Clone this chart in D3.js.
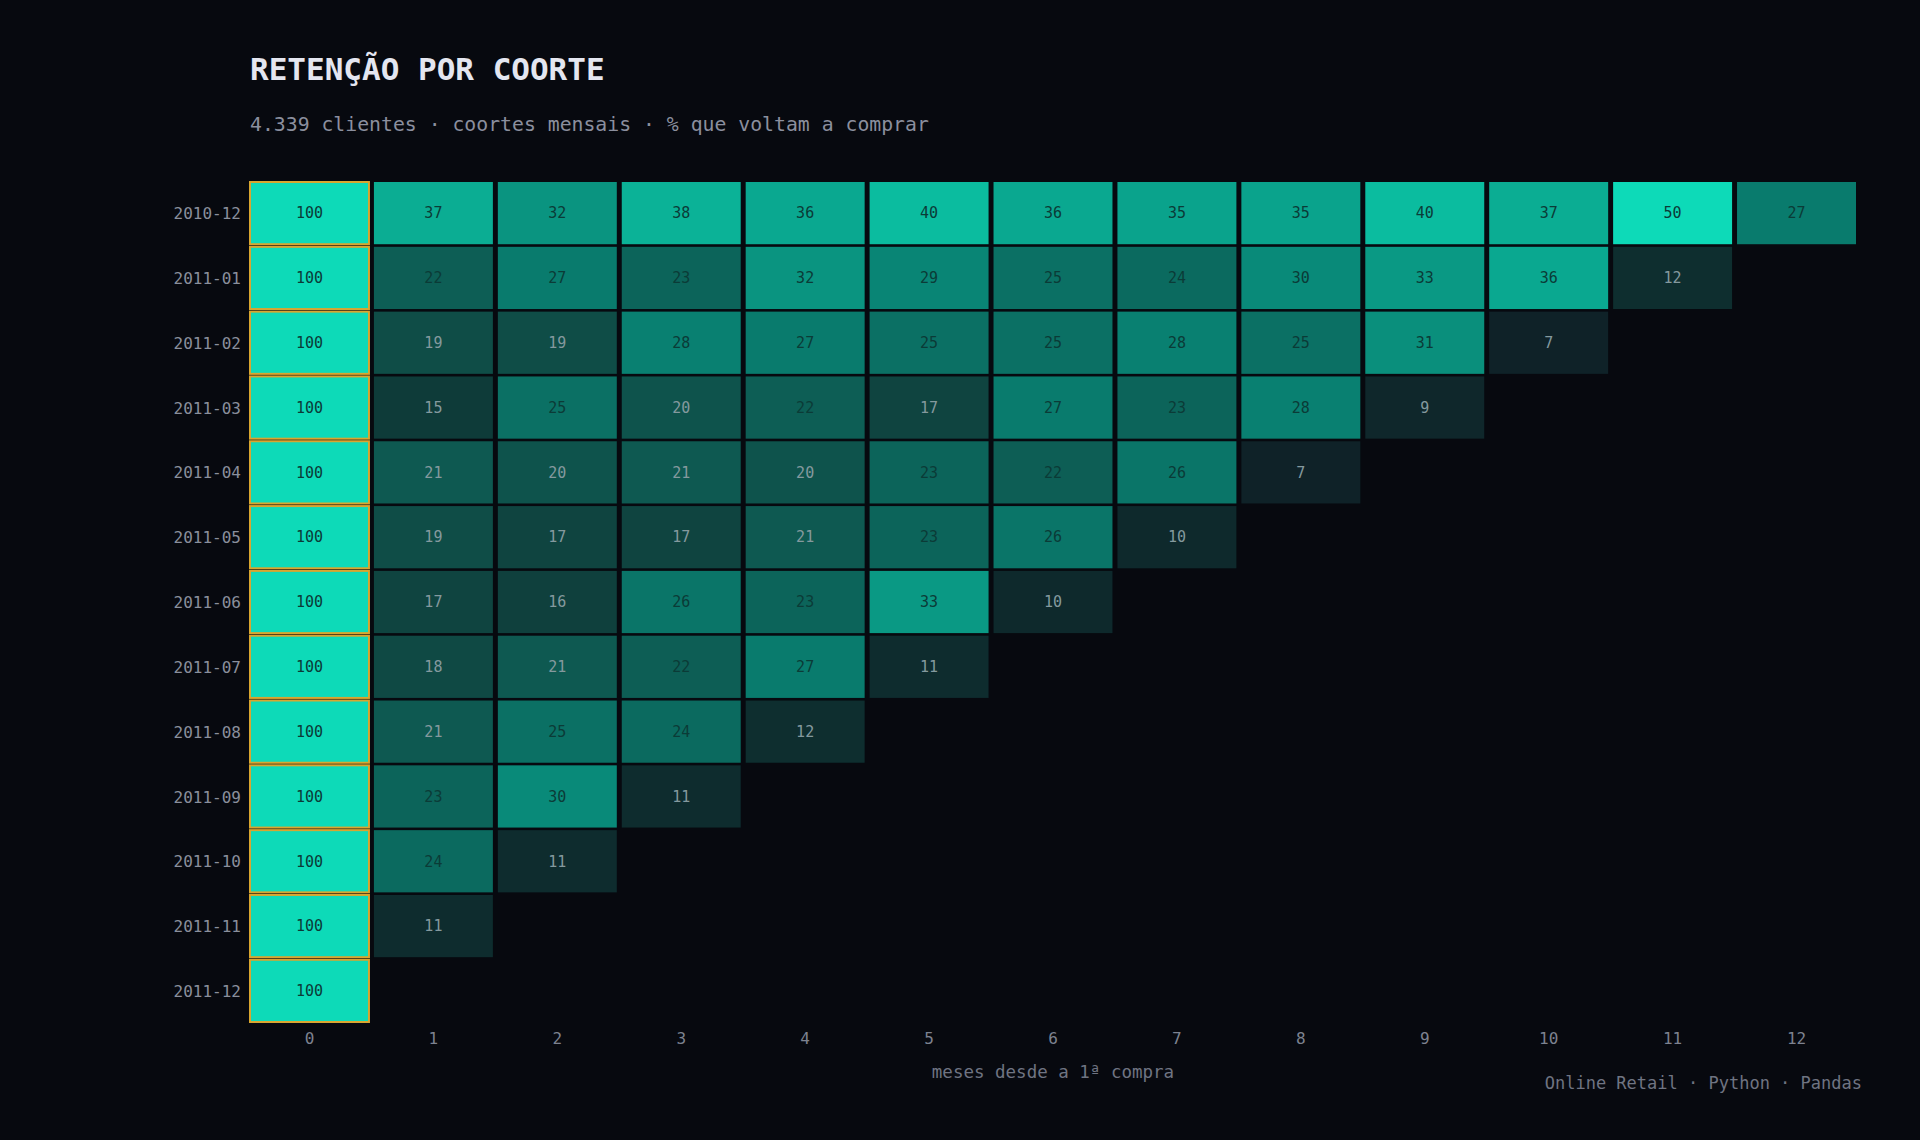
<!DOCTYPE html>
<html lang="pt">
<head>
<meta charset="utf-8">
<title>Retenção por coorte</title>
<script src="https://cdn.jsdelivr.net/npm/d3@7"></script>
<style>
  html, body { margin: 0; padding: 0; background: #07090f; }
  svg { display: block; }
  text { font-family: 'DejaVu Sans Mono', 'Liberation Mono', monospace; }
</style>
</head>
<body>
<svg id="chart" width="1920" height="1140"></svg>
<script>
const cohorts = ['2010-12', '2011-01', '2011-02', '2011-03', '2011-04', '2011-05', '2011-06',
  '2011-07', '2011-08', '2011-09', '2011-10', '2011-11', '2011-12'];
const months = [0, 1, 2, 3, 4, 5, 6, 7, 8, 9, 10, 11, 12];

// % de clientes ativos por mês desde a 1ª compra (uma lista por coorte)
const retention = [
  [100, 37, 32, 38, 36, 40, 36, 35, 35, 40, 37, 50, 27],
  [100, 22, 27, 23, 32, 29, 25, 24, 30, 33, 36, 12],
  [100, 19, 19, 28, 27, 25, 25, 28, 25, 31, 7],
  [100, 15, 25, 20, 22, 17, 27, 23, 28, 9],
  [100, 21, 20, 21, 20, 23, 22, 26, 7],
  [100, 19, 17, 17, 21, 23, 26, 10],
  [100, 17, 16, 26, 23, 33, 10],
  [100, 18, 21, 22, 27, 11],
  [100, 21, 25, 24, 12],
  [100, 23, 30, 11],
  [100, 24, 11],
  [100, 11],
  [100],
];

const title = 'RETENÇÃO POR COORTE';
const subtitle = '4.339 clientes · coortes mensais · % que voltam a comprar';
const xTitle = 'meses desde a 1ª compra';
const footer = 'Online Retail · Python · Pandas';

const cells = [];
retention.forEach((row, i) => {
  row.forEach((value, m) => cells.push({ cohort: cohorts[i], month: m, value }));
});

const svg = d3.select('#chart');

const x = d3.scaleBand().domain(months).range([250, 1856]).paddingInner(0.04);
const y = d3.scaleBand().domain(cohorts).range([182, 1022]).paddingInner(0.04);

const color = d3.scaleLinear()
  .domain([7, 12, 19, 27, 40, 50])
  .range(['#0f2228', '#0e2e2f', '#0f4d47', '#097b6d', '#0bbc9f', '#0ddab8'])
  .clamp(true);

svg.append('text')
  .attr('x', 250)
  .attr('y', 80)
  .attr('fill', '#e4e6f0')
  .attr('font-size', 31)
  .attr('font-weight', 700)
  .text(title);

svg.append('text')
  .attr('x', 250)
  .attr('y', 131)
  .attr('fill', '#8b8f9e')
  .attr('font-size', 19.8)
  .text(subtitle);

const cell = svg.append('g')
  .selectAll('g')
  .data(cells)
  .join('g')
  .attr('transform', (d) => `translate(${x(d.month)},${y(d.cohort)})`);

cell.append('rect')
  .attr('width', x.bandwidth())
  .attr('height', y.bandwidth())
  .attr('fill', (d) => color(d.value))
  .attr('stroke', (d) => (d.month === 0 ? '#d8a630' : 'none'))
  .attr('stroke-width', 2);

cell.append('text')
  .attr('x', x.bandwidth() / 2)
  .attr('y', y.bandwidth() / 2)
  .attr('dy', '0.35em')
  .attr('text-anchor', 'middle')
  .attr('font-size', 15)
  .attr('fill', (d) => (d.value >= 22 ? '#0b3b37' : '#84999e'))
  .text((d) => d.value);

// rótulos das coortes
svg.append('g')
  .selectAll('text')
  .data(cohorts)
  .join('text')
  .attr('x', 241)
  .attr('y', (d) => y(d) + y.bandwidth() / 2)
  .attr('dy', '0.38em')
  .attr('text-anchor', 'end')
  .attr('font-size', 16)
  .attr('fill', '#8a8f9c')
  .text((d) => d);

// eixo x: meses
const xAxis = svg.append('g')
  .attr('transform', 'translate(0,1021)')
  .call(d3.axisBottom(x).tickSize(0).tickPadding(12));
xAxis.select('.domain').remove();
xAxis.selectAll('text')
  .attr('font-family', "'DejaVu Sans Mono', monospace")
  .attr('font-size', 16)
  .attr('fill', '#7d8290');

svg.append('text')
  .attr('x', (x.range()[0] + x.range()[1]) / 2)
  .attr('y', 1078)
  .attr('text-anchor', 'middle')
  .attr('font-size', 17.5)
  .attr('fill', '#6f7482')
  .text(xTitle);

svg.append('text')
  .attr('x', 1862)
  .attr('y', 1089)
  .attr('text-anchor', 'end')
  .attr('font-size', 17)
  .attr('fill', '#6f7482')
  .text(footer);
</script>
</body>
</html>
